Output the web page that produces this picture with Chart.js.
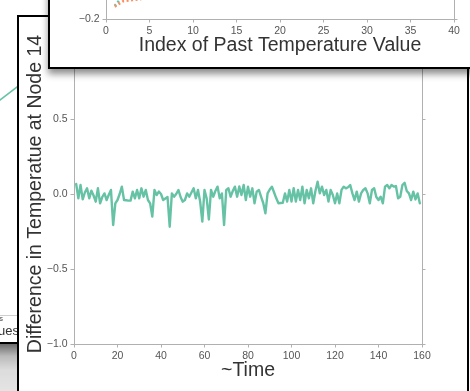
<!DOCTYPE html>
<html><head><meta charset="utf-8">
<script src="https://cdn.jsdelivr.net/npm/chart.js@4.4.0/dist/chart.umd.min.js"></script>
<style>
html,body{margin:0;padding:0;background:#fff;}
body{width:470px;height:391px;overflow:hidden;position:relative;font-family:"Liberation Sans",Arial,sans-serif;}
.abs{position:absolute;}
#backCanvas{left:-183px;top:0;z-index:0;}
#legRule{left:0;top:315px;width:17px;height:1px;background:#cfcfcf;z-index:0;}
#legS{left:-20px;top:314px;width:23px;text-align:right;font-size:8px;color:#444;z-index:0;}
#legVal{left:-80px;top:323px;width:99px;text-align:right;font-size:13px;color:#333;z-index:0;white-space:nowrap;}
#backShade{left:0;top:342px;width:17px;height:49px;border-top:2px solid #000;background:linear-gradient(#6a6a6a,#b9b9b9 12px,#dcdcdc 26px,#e5e5e5);z-index:0;}
#mainFig{left:17px;top:15px;width:452px;height:420px;box-sizing:border-box;border:2px solid #000;background:#fff;z-index:1;}
#mainCanvas{left:0;top:0;z-index:2;}
#inset{left:48px;top:-150px;width:440px;height:219px;box-sizing:border-box;border:2px solid #000;background:#fff;z-index:3;box-shadow:0 5px 7px rgba(0,0,0,0.45);}
#insetCanvas{left:0;top:0;}
</style></head>
<body>
<canvas id="backCanvas" class="abs" width="200" height="391"></canvas>
<div id="legRule" class="abs"></div>
<div id="legS" class="abs">s</div>
<div id="legVal" class="abs">Past Values</div>
<div id="backShade" class="abs"></div>
<div id="mainFig" class="abs"></div>
<canvas id="mainCanvas" class="abs" width="470" height="391"></canvas>
<div id="inset" class="abs"><canvas id="insetCanvas" class="abs" width="420" height="215"></canvas></div>
<script>
// ---- main chart data: difference in temperature at node 14, time index 1..159
const mainValues = [
 0.067,-0.029,0.06,-0.036,0.01,0.038,-0.029,0.022,-0.01,-0.051,
 0.038,-0.062,-0.02,0.004,-0.04,-0.005,0.027,-0.207,-0.062,-0.04,
 0.0,0.049,-0.04,-0.042,-0.044,-0.044,0.016,-0.029,0.027,-0.029,
 0.038,-0.018,0.027,-0.04,-0.062,-0.151,0.027,-0.007,0.016,0.0,
 -0.04,-0.03,-0.02,-0.218,0.004,-0.018,0.0,0.027,-0.02,-0.051,
 -0.04,0.004,-0.018,0.01,0.038,-0.029,0.027,-0.05,-0.184,0.027,
 -0.03,-0.17,0.027,-0.018,0.02,0.049,-0.029,0.004,-0.207,0.027,
 0.038,-0.018,0.02,0.049,-0.018,0.05,-0.007,0.06,-0.04,0.049,
 -0.018,0.038,-0.062,0.016,0.027,-0.018,-0.06,-0.129,0.004,0.03,
 0.049,0.01,-0.029,-0.062,-0.06,-0.058,0.004,-0.051,0.027,-0.051,
 0.038,-0.051,0.027,-0.04,0.049,-0.062,0.027,-0.029,0.038,-0.062,
 0.02,0.082,0.004,0.049,-0.007,0.027,-0.051,0.027,-0.007,-0.062,
 0.004,-0.062,0.027,0.049,0.038,0.045,0.06,0.004,-0.04,0.016,
 -0.051,0.004,0.027,0.038,0.004,-0.062,0.027,0.038,-0.02,-0.04,
 -0.018,-0.062,0.049,0.06,0.038,0.06,0.049,0.053,-0.029,-0.018,
 0.06,0.075,0.02,0.004,-0.04,0.016,-0.036,0.004,-0.062
];
const mainXTicks = [0,20,40,60,80,100,120,140,160];
const mainYTicks = [-1.0,-0.5,0.0,0.5,1.0];
const mainYTickLabels = ['\u22121.0','\u22120.5','0.0','0.5','1.0'];

// ---- inset chart data (only its lowest part is visible)
const insetLags = [1,2,3,4,5,6];
const insetOrange = [-0.105,-0.063,-0.055,-0.048,0.02,0.1];
const insetGreen = [-0.1,-0.02,0.12,0.2,0.25,0.3];
const insetXTicks = [0,5,10,15,20,25,30,35,40];
const insetYTicks = [-0.2,0.0,0.2,0.4,0.6,0.8,1.0];
const insetYTickLabels = ['\u22120.2','0.0','0.2','0.4','0.6','0.8','1.0'];

// ---- background figure fragment
const backX = [8,11];
const backY = [0.699,0.817];

const FONT = '"Liberation Sans", Arial, sans-serif';
const AX = '#b0b0b0', TICK = '#555555', TITLE = '#333333';
const GREEN = '#66c2a5', ORANGE = '#fc8d62';

function fixW(w){return s=>{s.width=w;};}
function fixH(h){return s=>{s.height=h;};}

new Chart(document.getElementById('mainCanvas'), {
  type:'line',
  data:{datasets:[{data:mainValues.map((v,i)=>({x:i+1,y:v})),borderColor:GREEN,borderWidth:2.4,borderJoinStyle:'round',borderCapStyle:'round',pointRadius:0,tension:0,fill:false}]},
  options:{
    responsive:false,animation:false,
    layout:{padding:{left:0,right:44,top:44,bottom:0}},
    plugins:{legend:{display:false},tooltip:{enabled:false}},
    scales:{
      x:{type:'linear',min:0,max:160,
        afterBuildTicks:s=>{s.ticks=mainXTicks.map(v=>({value:v}));},
        ticks:{color:TICK,font:{family:FONT,size:10.5},padding:2,maxRotation:0,callback:v=>String(v)},
        grid:{drawOnChartArea:false,drawTicks:true,tickLength:3.5,color:AX},
        border:{color:AX,width:1},
        title:{display:true,text:'~Time',color:TITLE,font:{family:FONT,size:19.5},padding:{top:0,bottom:8.3}},
        afterFit:fixH(47)},
      y:{type:'linear',min:-1,max:1,position:'left',
        afterBuildTicks:s=>{s.ticks=mainYTicks.map(v=>({value:v}));},
        ticks:{color:TICK,font:{family:FONT,size:10.5},padding:3,callback:(v,i)=>mainYTickLabels[i]},
        grid:{drawOnChartArea:false,drawTicks:true,tickLength:3.5,color:AX},
        border:{color:AX,width:1},
        title:{display:true,text:'Difference in Temperatue at Node 14',color:TITLE,font:{family:FONT,size:19.5},padding:{top:24.3,bottom:0}},
        afterFit:fixW(74)},
      y2:{type:'linear',min:-1,max:1,position:'right',
        afterBuildTicks:s=>{s.ticks=mainYTicks.map(v=>({value:v}));},
        ticks:{display:false},
        grid:{drawOnChartArea:false,drawTicks:true,tickLength:3.5,color:AX},
        border:{color:AX,width:1},
        afterFit:fixW(4)}
    }
  }
});

new Chart(document.getElementById('insetCanvas'), {
  type:'line',
  data:{datasets:[
    {data:insetLags.map((x,i)=>({x:x,y:insetOrange[i]})),borderColor:ORANGE,borderWidth:2.5,borderDash:[2,2.5],pointRadius:0,tension:0},
    {data:insetLags.map((x,i)=>({x:x,y:insetGreen[i]})),borderColor:GREEN,borderWidth:2.5,borderDash:[2,2.5],pointRadius:0,tension:0}
  ]},
  options:{
    responsive:false,animation:false,
    layout:{padding:{left:0,right:12,top:10,bottom:0}},
    plugins:{legend:{display:false},tooltip:{enabled:false}},
    scales:{
      x:{type:'linear',min:0,max:40,
        afterBuildTicks:s=>{s.ticks=insetXTicks.map(v=>({value:v}));},
        ticks:{color:TICK,font:{family:FONT,size:10.5},padding:2,maxRotation:0,callback:v=>String(v)},
        grid:{drawOnChartArea:false,drawTicks:true,tickLength:3.5,color:AX},
        border:{color:AX,width:1},
        title:{display:true,text:'Index of Past Temperature Value',color:TITLE,font:{family:FONT,size:19.5},padding:{top:0,bottom:9.3}},
        afterFit:fixH(48)},
      y:{type:'linear',min:-0.2,max:1.0,position:'left',
        afterBuildTicks:s=>{s.ticks=insetYTicks.map(v=>({value:v}));},
        ticks:{color:TICK,font:{family:FONT,size:10.5},padding:3,callback:(v,i)=>insetYTickLabels[i]},
        grid:{drawOnChartArea:false,drawTicks:true,tickLength:3.5,color:AX},
        border:{color:AX,width:1},
        afterFit:fixW(56)},
      y2:{type:'linear',min:-0.2,max:1.0,position:'right',
        afterBuildTicks:s=>{s.ticks=insetYTicks.map(v=>({value:v}));},
        ticks:{display:false},
        grid:{drawOnChartArea:false,drawTicks:true,tickLength:3.5,color:AX},
        border:{color:AX,width:1},
        afterFit:fixW(4)}
    }
  }
});

new Chart(document.getElementById('backCanvas'), {
  type:'line',
  data:{datasets:[{data:backX.map((x,i)=>({x:x,y:backY[i]})),borderColor:GREEN,borderWidth:1.5,pointRadius:0,tension:0}]},
  options:{
    responsive:false,animation:false,
    layout:{padding:0},
    plugins:{legend:{display:false},tooltip:{enabled:false}},
    scales:{x:{type:'linear',min:0,max:10,display:false},y:{type:'linear',min:0,max:1,display:false}}
  }
});
</script>
</body></html>
